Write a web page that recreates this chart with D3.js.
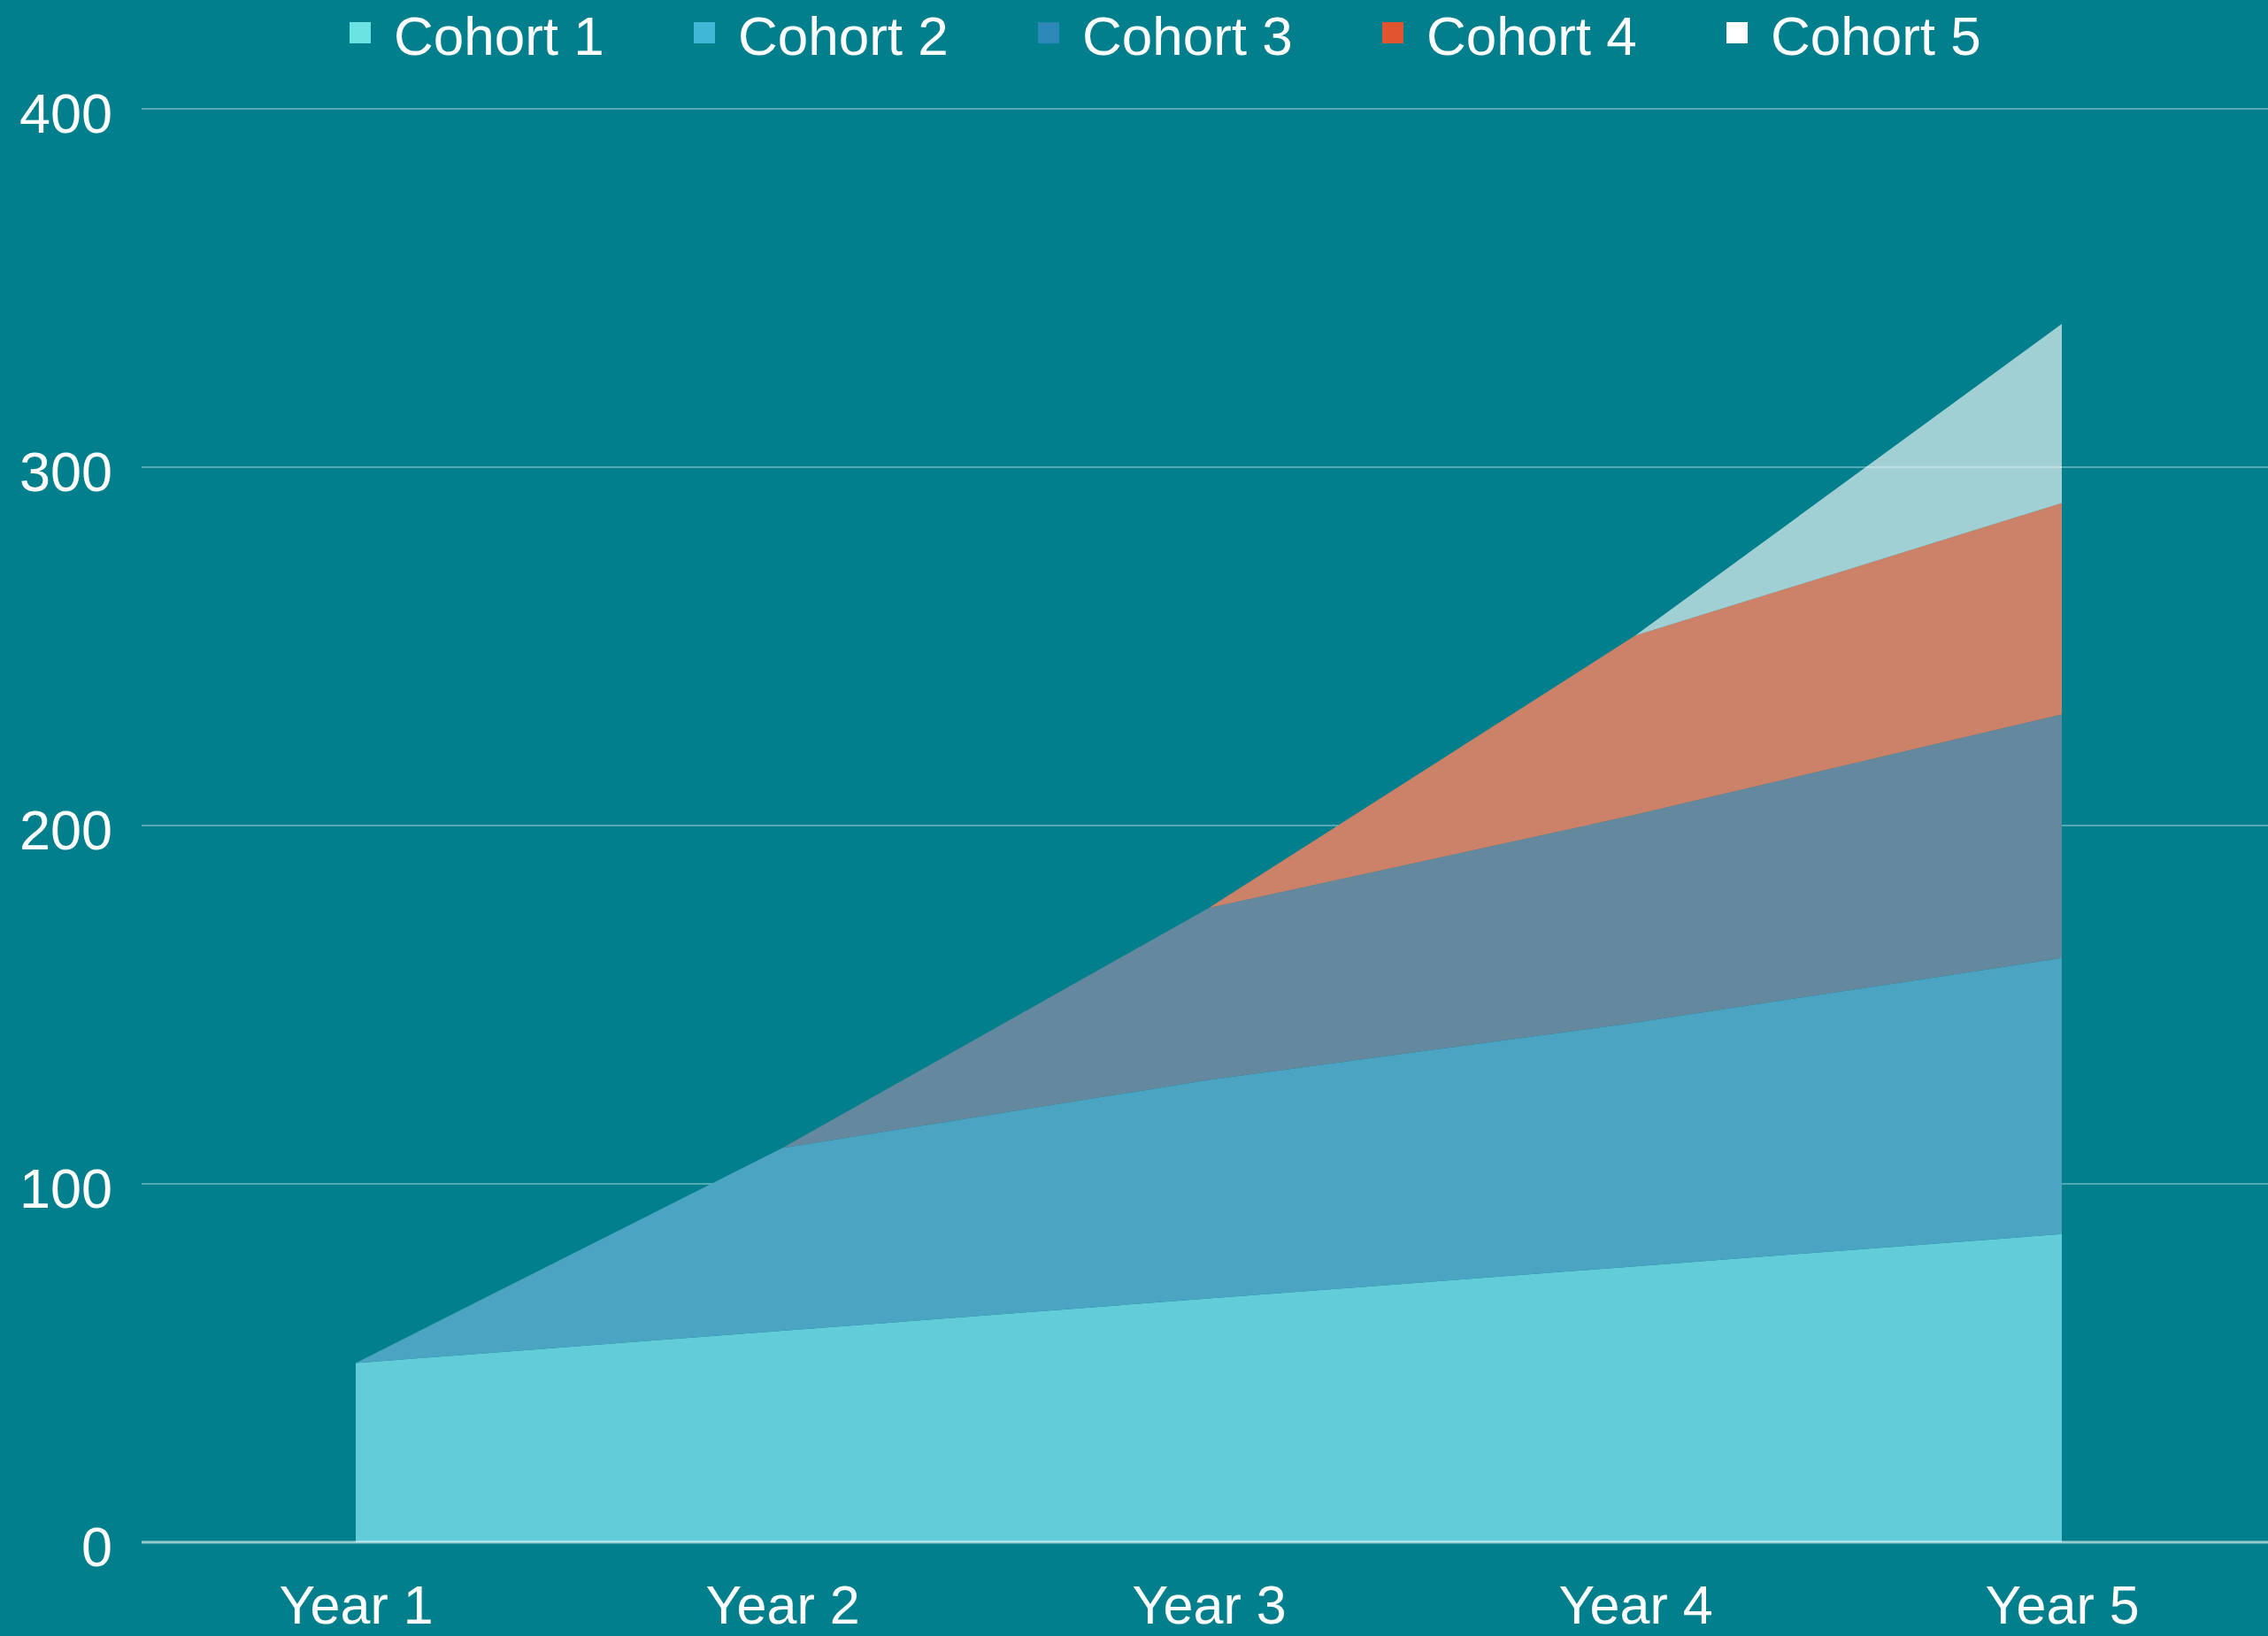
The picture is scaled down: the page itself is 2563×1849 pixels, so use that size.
<!DOCTYPE html>
<html>
<head>
<meta charset="utf-8">
<script src="https://cdn.jsdelivr.net/npm/d3@7"></script>
<style>
    html, body { margin: 0; padding: 0; background: #027f8c; }
    svg { display: block; }
</style>
</head>
<body>
<div id="chart"></div>
<script>
'use strict';

// chart data
var years = ['Year 1', 'Year 2', 'Year 3', 'Year 4', 'Year 5'];
var cohorts = ['Cohort 1', 'Cohort 2', 'Cohort 3', 'Cohort 4', 'Cohort 5'];
var cohort1 = [50, 59, 68, 77, 86];
var cohort2 = [0, 51, 61, 68, 77];
var cohort3 = [0, 0, 48, 58, 68];
var cohort4 = [0, 0, 0, 50, 59];
var cohort5 = [0, 0, 0, 0, 50];
var yTicks = [0, 100, 200, 300, 400];

var legendColors = ['#6ce3e3', '#41b7d8', '#2d87b7', '#e2532f', '#ffffff'];
var areaColors = ['#62cdd9', '#4ba5c2', '#64889e', '#cb8269', '#ffffff'];
var areaOpacity = [1, 1, 1, 1, 0.63];

var width = 2563;
var height = 1849;
var font = '"Liberation Sans", Arial, sans-serif';

var series = [cohort1, cohort2, cohort3, cohort4, cohort5];
var table = years.map(function (y, i) {
    var row = {year: y};
    cohorts.forEach(function (c, j) {
        row[c] = series[j][i];
    });
    return row;
});

var svg = d3.select('#chart')
    .append('svg')
    .attr('width', width)
    .attr('height', height);

svg.append('rect')
    .attr('width', width)
    .attr('height', height)
    .attr('fill', '#027f8c');

var x = d3.scalePoint()
    .domain(years)
    .range([161, 2571])
    .padding(0.5);

var y = d3.scaleLinear()
    .domain([0, 400])
    .range([1743, 123]);

// grid lines (under the areas, only seen through the see-through top area)
svg.append('g')
    .selectAll('line')
    .data(yTicks.filter(function (d) { return d > 0; }))
    .enter().append('line')
    .attr('x1', 160)
    .attr('x2', width)
    .attr('y1', function (d) { return y(d); })
    .attr('y2', function (d) { return y(d); })
    .attr('stroke', 'rgba(255,255,255,0.33)')
    .attr('stroke-width', 2);

var stacked = d3.stack().keys(cohorts)(table);

var area = d3.area()
    .x(function (d) { return x(d.data.year); })
    .y0(function (d) { return y(d[0]); })
    .y1(function (d) { return y(d[1]); });

svg.append('g')
    .selectAll('path')
    .data(stacked)
    .enter().append('path')
    .attr('d', area)
    .attr('fill', function (d, i) { return areaColors[i]; })
    .attr('fill-opacity', function (d, i) { return areaOpacity[i]; });

// zero line
svg.append('line')
    .attr('x1', 160)
    .attr('x2', width)
    .attr('y1', y(0))
    .attr('y2', y(0))
    .attr('stroke', 'rgba(255,255,255,0.6)')
    .attr('stroke-width', 3);

// y axis labels
var yAxis = d3.axisLeft(y)
    .tickValues(yTicks)
    .tickSize(0)
    .tickPadding(0);

var yg = svg.append('g')
    .attr('transform', 'translate(127,0)')
    .call(yAxis);
yg.select('.domain').remove();
yg.selectAll('text')
    .attr('fill', '#ffffff')
    .attr('font-family', font)
    .attr('font-size', 63)
    .attr('dy', '0.42em');

// x axis labels
var xAxis = d3.axisBottom(x)
    .tickSize(0)
    .tickPadding(0);

var xg = svg.append('g')
    .attr('transform', 'translate(0,1835)')
    .call(xAxis);
xg.select('.domain').remove();
xg.selectAll('text')
    .attr('fill', '#ffffff')
    .attr('font-family', font)
    .attr('font-size', 61)
    .attr('dy', 0)
    .attr('y', 0);

// legend
var legend = svg.append('g')
    .selectAll('g')
    .data(cohorts)
    .enter().append('g')
    .attr('transform', function (d, i) {
        return 'translate(' + (395 + i * 389) + ',0)';
    });

legend.append('rect')
    .attr('x', 0)
    .attr('y', 25)
    .attr('width', 24)
    .attr('height', 24)
    .attr('fill', function (d, i) { return legendColors[i]; });

legend.append('text')
    .attr('x', 50)
    .attr('y', 62)
    .attr('fill', '#ffffff')
    .attr('font-family', font)
    .attr('font-size', 62)
    .text(function (d) { return d; });
</script>
</body>
</html>
